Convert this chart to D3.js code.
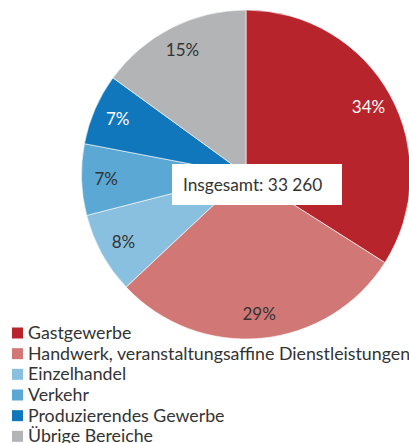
<!DOCTYPE html>
<html>
<head>
<meta charset="utf-8">
<script src="https://cdn.jsdelivr.net/npm/d3@7"></script>
<style>
  body { margin: 0; background: #fff; }
  svg { display: block; }
</style>
</head>
<body>
<div id="chart"></div>
<script>
const categories = [
  "Gastgewerbe",
  "Handwerk, veranstaltungsaffine Dienstleistungen",
  "Einzelhandel",
  "Verkehr",
  "Produzierendes Gewerbe",
  "Übrige Bereiche"
];
const shares = [34, 29, 8, 7, 7, 15];
const colors = ["#b8242c", "#d17876", "#8ac0df", "#5aa8d3", "#1177bd", "#b2b4b5"];
const labelColors = ["#fff", "#333", "#333", "#333", "#fff", "#333"];
const totalLabel = "Insgesamt: 33 260";

const width = 409, height = 443;
const cx = 246, cy = 174.5, radius = 164.5;
const font = "Lato, 'Source Sans Pro', sans-serif";

const data = categories.map((c, i) => ({ name: c, value: shares[i], i }));

const svg = d3.select("#chart").append("svg")
  .attr("width", width)
  .attr("height", height);

const pie = d3.pie().sort(null).value(d => d.value);
const arc = d3.arc().innerRadius(0).outerRadius(radius);
const labelArc = d3.arc().innerRadius(radius * 0.85).outerRadius(radius * 0.85);

const g = svg.append("g").attr("transform", `translate(${cx},${cy})`);

const slices = g.selectAll("g.slice")
  .data(pie(data))
  .join("g")
  .attr("class", "slice");

slices.append("path")
  .attr("d", arc)
  .attr("fill", d => colors[d.data.i])
  .attr("stroke", "#fff")
  .attr("stroke-width", 0.6);

slices.append("text")
  .attr("transform", d => `translate(${labelArc.centroid(d)})`)
  .attr("text-anchor", "middle")
  .attr("dy", "0.35em")
  .style("font-family", font)
  .style("font-size", "17px")
  .attr("fill", d => labelColors[d.data.i])
  .text(d => d.data.value + "%");

// total box in the middle
const box = svg.append("g").attr("transform", "translate(172,164)");
box.append("rect")
  .attr("width", 170)
  .attr("height", 41)
  .attr("fill", "#fff");
box.append("text")
  .attr("x", 11)
  .attr("y", 27)
  .style("font-family", font)
  .style("font-size", "17.3px")
  .attr("fill", "#333")
  .text(totalLabel);

// legend
const legendY = d3.scaleBand()
  .domain(categories)
  .range([323, 447])
  .paddingInner(0);

const legend = svg.selectAll("g.legend")
  .data(data)
  .join("g")
  .attr("class", "legend")
  .attr("transform", d => `translate(12,${legendY(d.name)})`);

legend.append("rect")
  .attr("y", 4.5)
  .attr("width", 11)
  .attr("height", 11)
  .attr("fill", d => colors[d.i]);

legend.append("text")
  .attr("x", 16)
  .attr("y", 16)
  .style("font-family", font)
  .style("font-size", "17.8px")
  .attr("fill", "#333")
  .text(d => d.name);
</script>
</body>
</html>
